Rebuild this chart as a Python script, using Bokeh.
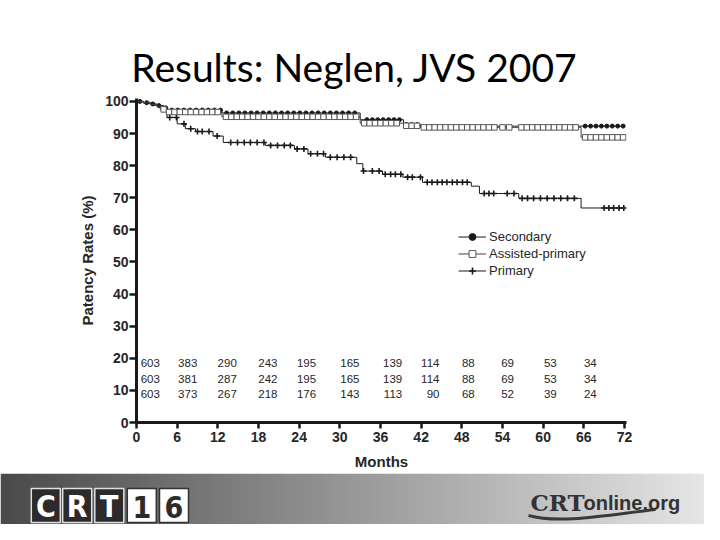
import numpy as np
from bokeh.plotting import figure
from bokeh.models import Range1d, FixedTicker, Legend, LegendItem
from bokeh.layouts import column
from bokeh.embed import file_html
from bokeh.resources import INLINE
from bokeh.core.properties import value

# ---------------- data ----------------
title_text = "Results: Neglen, JVS 2007"
x_label = "Months"
y_label = "Patency Rates (%)"
x_ticks = [0, 6, 12, 18, 24, 30, 36, 42, 48, 54, 60, 66, 72]
y_ticks = [0, 10, 20, 30, 40, 50, 60, 70, 80, 90, 100]

# Kaplan-Meier step curves: time of each step (months) and patency after it (%)
sec_t = [0, 1.0, 2.0, 3.0, 4.0, 4.6, 12.6, 33.0, 39.4, 41.9, 72]
sec_s = [100, 99.6, 99.2, 98.7, 98.0, 97.3, 96.4, 94.3, 92.8, 92.3, 92.3]

asp_t = [0, 1.0, 2.0, 3.0, 4.0, 4.6, 12.6, 33.0, 39.4, 41.9, 65.6, 72]
asp_s = [100, 99.6, 99.1, 98.5, 97.5, 96.7, 95.2, 93.2, 92.4, 91.9, 88.8, 88.8]

pri_t = [0, 1.0, 2.5, 3.5, 4.5, 6.0, 7.2, 8.7, 11.3, 12.8, 19.0, 23.3, 25.3,
         27.9, 32.5, 33.4, 36.3, 39.3, 42.2, 49.4, 50.6, 56.4, 65.6, 72]
pri_s = [100, 99.5, 98.8, 97.5, 95.0, 93.0, 91.5, 90.6, 89.2, 87.2, 86.3, 85.2, 83.7,
         82.6, 80.6, 78.3, 77.3, 76.4, 74.8, 73.6, 71.3, 69.8, 66.8, 66.8]

# censoring marks (months)
sec_c = [0.5, 1.5, 2.4, 3.3, 4.3, 5.2, 6.1, 7.0, 7.9, 8.8, 9.7, 10.6, 11.5, 12.4,
         13.3, 14.2, 15.1, 16.0, 16.9, 17.8, 18.7, 19.6, 20.5, 21.4, 22.3, 23.2,
         24.1, 25.0, 25.9, 26.8, 27.7, 28.6, 29.5, 30.4, 31.3, 32.2, 34.0, 34.8,
         35.6, 36.4, 37.2, 38.0, 38.8, 39.8, 40.6, 41.4, 66.2, 67.0, 67.8, 68.6,
         69.4, 70.2, 71.0, 71.8]
asp_c = [4.0, 4.8, 5.6, 6.4, 7.2, 8.0, 8.8, 9.6, 10.4, 11.2, 12.0, 13.2, 14.0,
         14.8, 15.6, 16.4, 17.2, 18.0, 18.8, 19.6, 20.4, 21.2, 22.0, 22.8, 23.6,
         24.4, 25.2, 26.0, 26.8, 27.6, 28.4, 29.2, 30.0, 30.8, 31.6, 32.4, 33.6,
         34.4, 35.2, 36.0, 36.8, 37.6, 38.4, 39.8, 40.6, 41.4, 42.4, 43.2, 44.0,
         44.8, 45.6, 46.4, 47.2, 48.0, 48.8, 49.6, 50.4, 51.2, 52.0, 52.8, 54.0,
         55.0, 56.8, 57.6, 58.4, 59.2, 60.0, 60.8, 61.6, 62.4, 63.2, 64.0, 64.8,
         66.2, 67.0, 67.8, 68.6, 69.4, 70.2, 71.0, 71.8]
pri_c = [4.9, 5.9, 7.0, 8.0, 9.0, 9.7, 10.7, 11.9, 13.9, 14.9, 15.9, 16.8, 17.8,
         18.8, 19.8, 20.8, 21.8, 22.7, 23.7, 24.7, 25.7, 26.7, 27.6, 28.6, 29.6,
         30.6, 31.6, 33.5, 34.8, 35.8, 36.7, 37.5, 38.2, 39.0, 40.0, 40.7, 41.9,
         42.9, 43.6, 44.4, 45.1, 45.8, 46.6, 47.3, 48.1, 48.8, 51.3, 52.0, 52.7,
         54.7, 55.7, 56.9, 57.7, 58.6, 59.6, 60.6, 61.6, 62.6, 63.6, 64.6, 69.0,
         69.7, 70.4, 71.2, 71.9]

# numbers at risk
risk_times = [0, 6, 12, 18, 24, 30, 36, 42, 48, 54, 60, 66]
risk_secondary = [603, 383, 290, 243, 195, 165, 139, 114, 88, 69, 53, 34]
risk_assisted = [603, 381, 287, 242, 195, 165, 139, 114, 88, 69, 53, 34]
risk_primary = [603, 373, 267, 218, 176, 143, 113, 90, 68, 52, 39, 24]

series_names = ["Secondary", "Assisted-primary", "Primary"]

# layout of the at-risk table: right edge of each column (month units) and row heights
risk_col_right = [3.45, 8.97, 14.8, 20.8, 26.5, 32.9, 39.2, 44.7, 49.9, 55.7, 62.0, 67.9]
risk_row_y = [18.4, 13.7, 9.0]

# ---------------- helpers ----------------
def step_value(t, s, c):
    t = np.asarray(t); s = np.asarray(s); c = np.asarray(c)
    idx = np.searchsorted(t, c, side="right") - 1
    return s[idx]

FONT = "Liberation Sans"
INK = "#1a1a1a"
TXT = "#262626"
W = 704
H_TITLE, H_CHART, H_FOOT = 92, 381, 51

# ---------------- title strip ----------------
pt = figure(width=W, height=H_TITLE, x_range=(0, W), y_range=Range1d(H_TITLE, 0),
            output_backend="svg", toolbar_location=None, frame_align=False,
            min_border=0, outline_line_color=None)
pt.axis.visible = False
pt.grid.visible = False
pt.text(x=[354], y=[66], text=[title_text], text_font=value("Lato"),
        text_font_size="39px", text_color="#000000", text_align="center",
        text_baseline="middle")

# ---------------- chart ----------------
p = figure(width=W, height=H_CHART, x_range=Range1d(0, 72.3), y_range=Range1d(0, 100.9),
           output_backend="svg", toolbar_location=None, frame_align=False,
           min_border_left=136, min_border_right=78, min_border_top=6,
           min_border_bottom=51, outline_line_color=None,
           background_fill_color="white", border_fill_color="white")
p.grid.visible = False

for ax in (p.xaxis[0], p.yaxis[0]):
    ax.axis_line_width = 3
    ax.axis_line_color = INK
    ax.major_tick_line_width = 2.5
    ax.major_tick_line_color = INK
    ax.major_tick_in = 0
    ax.minor_tick_line_color = None
    ax.major_label_text_font = FONT
    ax.major_label_text_font_style = "bold"
    ax.major_label_text_font_size = "14px"
    ax.major_label_text_color = TXT
    ax.axis_label_text_font = FONT
    ax.axis_label_text_font_style = "bold"
    ax.axis_label_text_font_size = "15px"
    ax.axis_label_text_color = TXT

p.xaxis.ticker = FixedTicker(ticks=x_ticks)
p.yaxis.ticker = FixedTicker(ticks=y_ticks)
p.xaxis.major_tick_out = 6
p.yaxis.major_tick_out = 7
p.xaxis.major_label_standoff = 3
p.yaxis.major_label_standoff = 1
p.xaxis.axis_label = x_label
p.yaxis.axis_label = y_label
p.xaxis.axis_label_standoff = 8
p.yaxis.axis_label_standoff = 6

# secondary
l_sec = p.step(sec_t, sec_s, mode="after", line_color=INK, line_width=1)
m_sec = p.scatter(sec_c, step_value(sec_t, sec_s, sec_c), marker="circle", size=4,
                  fill_color=INK, line_color=INK)
# primary
l_pri = p.step(pri_t, pri_s, mode="after", line_color=INK, line_width=1)
m_pri = p.scatter(pri_c, step_value(pri_t, pri_s, pri_c), marker="cross", size=6,
                  line_color=INK, line_width=1.6)
# assisted-primary
l_asp = p.step(asp_t, asp_s, mode="after", line_color="#444444", line_width=1)
m_asp = p.scatter(asp_c, step_value(asp_t, asp_s, asp_c), marker="square", size=5.5,
                  fill_color="white", line_color="#555555", line_width=1)

legend = Legend(items=[LegendItem(label=series_names[0], renderers=[l_sec, m_sec]),
                       LegendItem(label=series_names[1], renderers=[l_asp, m_asp]),
                       LegendItem(label=series_names[2], renderers=[l_pri, m_pri])],
                location=(322, 143), border_line_alpha=0, background_fill_alpha=0,
                padding=0, margin=0, spacing=0, glyph_width=28, glyph_height=17,
                label_height=17, label_standoff=3, label_text_font=FONT,
                label_text_font_size="13px", label_text_color=TXT)
p.add_layout(legend)

# numbers-at-risk table, right-aligned columns
for yy, vals in zip(risk_row_y, [risk_secondary, risk_assisted, risk_primary]):
    p.text(x=risk_col_right, y=[yy] * len(vals), text=[str(v) for v in vals],
           text_font=value(FONT), text_font_size="11.5px", text_color=TXT,
           text_align="right", text_baseline="middle")

# ---------------- footer band ----------------
Y0 = H_TITLE + H_CHART   # reference y of footer top
pf = figure(width=W, height=H_FOOT, x_range=(0, W), y_range=Range1d(Y0 + H_FOOT, Y0),
            output_backend="svg", toolbar_location=None, frame_align=False,
            min_border=0, outline_line_color=None)
pf.axis.visible = False
pf.grid.visible = False
grad = np.linspace(0, 1, 256)[None, :]
palette = ["#%02x%02x%02x" % (v, v, v) for v in np.linspace(74, 230, 256).astype(int)]
pf.image(image=[grad], x=0, y=Y0, dw=W, dh=H_FOOT, palette=palette)

logo_letters = ["C", "R", "T", "1", "6"]
logo_x = [45.3, 76.7, 108.8, 141.3, 173.5]
logo_fill = ["#2b2b2b", "#2b2b2b", "#2b2b2b", "#ffffff", "#ffffff"]
logo_line = ["#e0e0e0", "#e0e0e0", "#e0e0e0", "#333333", "#333333"]
logo_ink = ["#ffffff", "#ffffff", "#ffffff", "#2b2b2b", "#2b2b2b"]
pf.rect(x=logo_x, y=[505] * 5, width=29, height=34, fill_color=logo_fill,
        line_color=logo_line, line_width=1.5)
pf.text(x=logo_x, y=[506] * 5, text=logo_letters, text_font=value("DejaVu Sans Condensed"),
        text_font_style="bold", text_font_size="30px", text_color=logo_ink,
        text_align="center", text_baseline="middle")

pf.bezier(x0=[528], y0=[515], x1=[655], y1=[509], cx0=[560], cy0=[524], cx1=[610], cy1=[514],
          line_color="#3a3a3a", line_width=3)
pf.text(x=[530], y=[502], text=["CRT"], text_font=value("DejaVu Serif"),
        text_font_style="bold", text_font_size="23px", text_color="#333333",
        text_align="left", text_baseline="middle")
pf.text(x=[583], y=[502], text=["online.org"], text_font=value(FONT),
        text_font_style="bold", text_font_size="20px", text_color="#333333",
        text_align="left", text_baseline="middle")

layout = column(pt, p, pf, spacing=0)
open("out.html", "w").write(file_html(layout, INLINE))
